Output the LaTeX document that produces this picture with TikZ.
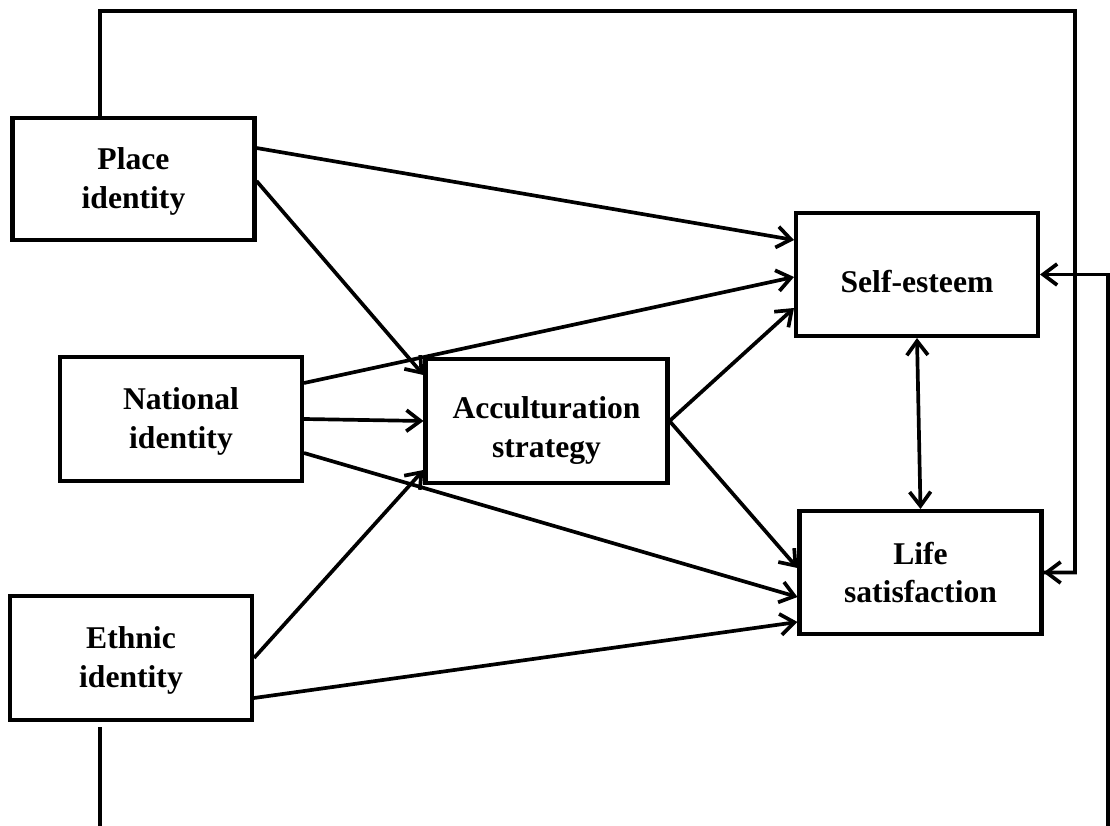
\documentclass[tikz,border=0pt]{standalone}
\usepackage{fontspec}
\setmainfont{Liberation Serif}
\usetikzlibrary{arrows.meta}
\newcommand{\droptext}[1]{\rule{0pt}{#1}}
\tikzset{
  box/.style={draw,line width=2.3pt,minimum width=4.84cm,minimum height=2.46cm,align=center,
    font=\bfseries\fontsize{18}{22}\selectfont},
  link/.style={line width=2.1pt,-{Straight Barb[length=8pt,width=12pt]}},
  both/.style={line width=2.1pt,{Straight Barb[length=8pt,width=12pt]}-{Straight Barb[length=8pt,width=12pt]}},
  wire/.style={line width=2.1pt}
}
\begin{document}
\begin{tikzpicture}

\clip (0,0) rectangle (22.2,16.5);

%predictors
\node[box,minimum height=2.44cm] (place) at (2.67,12.92) {\droptext{15pt}Place\\identity};
\node[box,minimum height=2.48cm] (national) at (3.62,8.12) {\droptext{15pt}National\\identity};
\node[box,minimum height=2.48cm] (ethnic) at (2.62,3.34) {\droptext{15pt}Ethnic\\identity};

%mediator
\node[box,minimum height=2.48cm] (accult) at (10.93,8.08) {\droptext{23.5pt}Acculturation\\strategy};

%outcomes
\node[box] (self) at (18.34,11.01) {\droptext{21pt}Self-esteem};
\node[box] (life) at (18.41,5.05) {Life\\satisfaction};

%paths to self-esteem
\draw[link] ([yshift=0.62cm]place.east) -- ([yshift=0.69cm]self.west);
\draw[link] ([yshift=0.72cm]national.east) -- ([yshift=-0.05cm]self.west);
\draw[link] (accult.east) -- ([yshift=-0.67cm]self.west);

%paths to acculturation
\draw[link] ([yshift=-0.04cm]place.east) -- ([yshift=0.92cm]accult.west);
\draw[link] (national.east) -- (accult.west);
\draw[link] (ethnic.east) -- ([yshift=-0.98cm]accult.west);

%paths to life satisfaction
\draw[link] (accult.east) -- ([yshift=0.09cm]life.west);
\draw[link] ([yshift=-0.68cm]national.east) -- ([yshift=-0.49cm]life.west);
\draw[link] ([yshift=-0.8cm]ethnic.east) -- ([yshift=-0.99cm]life.west);

\draw[both] (self.south) -- (life.north);

%covariate loops
\coordinate (topleft) at (2.0,16.28);
\coordinate (topright) at (21.5,16.28);
\coordinate (farright) at (22.16,-1);
\coordinate (bottomleft) at (2.0,-1);
\draw[wire] ([xshift=-0.67cm]place.north) -- (topleft) -- (topright) |- (life.east);
\draw[link] (topright |- life.east) -- (life.east);
\draw[link] (farright) |- (self.east);
\draw[wire] ([xshift=-0.62cm,yshift=-0.1cm]ethnic.south) -- (bottomleft);

\end{tikzpicture}
\end{document}
